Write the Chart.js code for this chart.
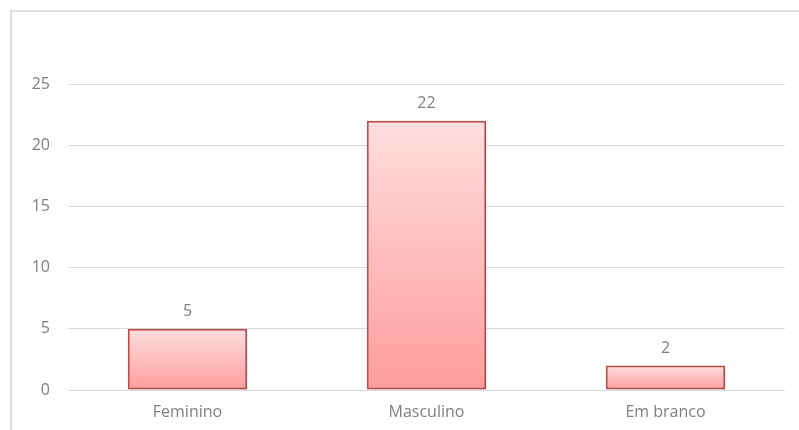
<!DOCTYPE html>
<html>
<head>
<meta charset="utf-8">
<script src="https://cdn.jsdelivr.net/npm/chart.js@4"></script>
<style>
  html, body { margin: 0; padding: 0; background: #fff; overflow: hidden; }
  #wrap { position: relative; width: 799px; height: 430px; }
  #frame { position: absolute; left: 10px; top: 10px; width: 900px; height: 500px; border: 2px solid #dedede; box-sizing: border-box; }
  canvas { position: absolute; left: 0; top: 0; }
</style>
</head>
<body>
<div id="wrap">
  <div id="frame"></div>
  <canvas id="chart" width="799" height="430"></canvas>
</div>
<script>
const categories = ['Feminino', 'Masculino', 'Em branco'];
const counts = [5, 22, 2];
const yTicks = [0, 5, 10, 15, 20, 25];

const textColor = '#7f7f7f';
const fontFamily = '"Open Sans", "Liberation Sans", sans-serif';

// vertical gradient per bar, light at the top, deeper pink at the base
function barFill(context) {
  const chart = context.chart;
  if (!chart.chartArea) return '#ffb8b8';
  const y = chart.scales.y;
  const top = y.getPixelForValue(counts[context.dataIndex]);
  const bottom = y.getPixelForValue(0);
  const g = chart.ctx.createLinearGradient(0, top, 0, bottom);
  g.addColorStop(0, '#ffdede');
  g.addColorStop(1, '#ff9c9c');
  return g;
}

const barShadow = {
  id: 'barShadow',
  beforeDatasetsDraw(chart) {
    const ctx = chart.ctx;
    ctx.save();
    ctx.shadowColor = 'rgba(0,0,0,0.18)';
    ctx.shadowBlur = 4;
    ctx.shadowOffsetX = 1;
    ctx.shadowOffsetY = 1;
  },
  afterDatasetsDraw(chart) {
    chart.ctx.restore();
  }
};

const valueLabels = {
  id: 'valueLabels',
  afterDatasetsDraw(chart) {
    const ctx = chart.ctx;
    const meta = chart.getDatasetMeta(0);
    ctx.save();
    ctx.fillStyle = textColor;
    ctx.font = '16px ' + fontFamily;
    ctx.textAlign = 'center';
    ctx.textBaseline = 'bottom';
    meta.data.forEach((bar, i) => {
      ctx.fillText(String(counts[i]), bar.x, bar.y - 9);
    });
    ctx.restore();
  }
};

new Chart(document.getElementById('chart').getContext('2d'), {
  type: 'bar',
  data: {
    labels: categories,
    datasets: [{
      data: counts,
      backgroundColor: barFill,
      borderColor: '#c0504d',
      borderWidth: 2,
      borderSkipped: false,
      categoryPercentage: 1,
      barPercentage: 0.5
    }]
  },
  options: {
    responsive: false,
    animation: false,
    devicePixelRatio: 1,
    layout: { padding: { top: 84, right: 14, bottom: 0, left: 0 } },
    plugins: {
      legend: { display: false },
      tooltip: { enabled: false }
    },
    scales: {
      x: {
        grid: { display: false, drawTicks: false },
        border: { display: false },
        ticks: { color: textColor, font: { family: fontFamily, size: 16 }, padding: 13 },
        afterFit(scale) { scale.height = 40; }
      },
      y: {
        min: 0,
        max: 25,
        afterBuildTicks(scale) { scale.ticks = yTicks.map(v => ({ value: v })); },
        grid: { color: '#d9d9d9', lineWidth: 1, drawTicks: false },
        border: { display: false },
        ticks: { color: textColor, font: { family: fontFamily, size: 16 }, padding: 18 },
        afterFit(scale) { scale.width = 68; }
      }
    }
  },
  plugins: [barShadow, valueLabels]
});
</script>
</body>
</html>
